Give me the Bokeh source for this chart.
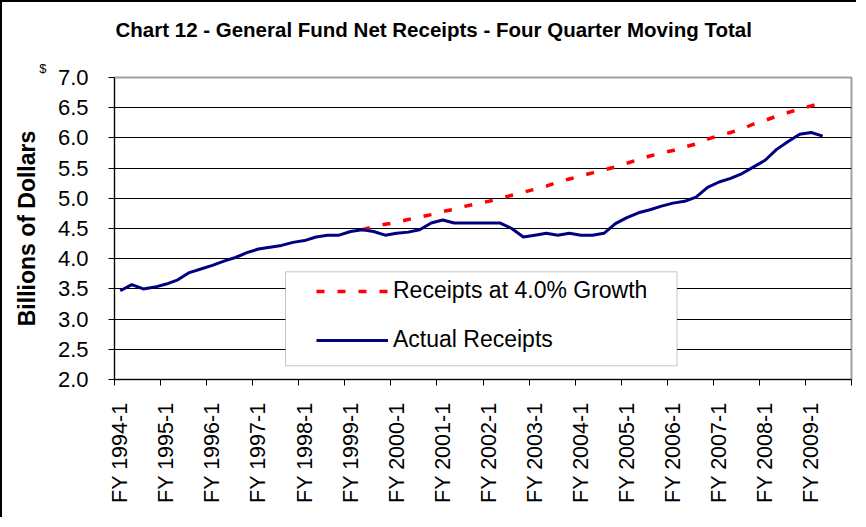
import math
from bokeh.plotting import figure
from bokeh.models import (Range1d, FixedTicker, CustomJSTickFormatter, NumeralTickFormatter,
                          Legend, LegendItem, BoxAnnotation, LinearAxis, Title)
from bokeh.embed import file_html
from bokeh.resources import INLINE

# ---------------- data ----------------
years = list(range(1994, 2010))
quarters = [f"FY {y}-{q}" for y in years for q in range(1, 5)]  # 64 categories

tick_labels = ["FY 1994-1", "FY 1995-1", "FY 1996-1", "FY 1997-1", "FY 1998-1",
               "FY 1999-1", "FY 2000-1", "FY 2001-1", "FY 2002-1", "FY 2003-1",
               "FY 2004-1", "FY 2005-1", "FY 2006-1", "FY 2007-1", "FY 2008-1",
               "FY 2009-1"]

y_ticks = [2.0, 2.5, 3.0, 3.5, 4.0, 4.5, 5.0, 5.5, 6.0, 6.5, 7.0]

actual_receipts = [3.47, 3.57, 3.50, 3.53, 3.58, 3.65, 3.77, 3.83, 3.89, 3.96,
                   4.02, 4.10, 4.16, 4.19, 4.22, 4.27, 4.30, 4.36, 4.39, 4.39,
                   4.45, 4.48, 4.45, 4.39, 4.42, 4.44, 4.48, 4.59, 4.64, 4.59,
                   4.59, 4.59, 4.59, 4.59, 4.50, 4.36, 4.39, 4.42, 4.39, 4.42,
                   4.39, 4.39, 4.42, 4.58, 4.68, 4.76, 4.81, 4.87, 4.92, 4.95,
                   5.02, 5.18, 5.27, 5.33, 5.41, 5.52, 5.63, 5.81, 5.94, 6.06,
                   6.09, 6.03]
actual_quarters = quarters[:len(actual_receipts)]

growth_receipts = [4.48, 4.53, 4.57, 4.60, 4.65, 4.69, 4.73, 4.78, 4.82, 4.87,
                   4.91, 4.95, 5.00, 5.05, 5.10, 5.15, 5.20, 5.27, 5.32, 5.37,
                   5.42, 5.47, 5.52, 5.58, 5.64, 5.70, 5.75, 5.79, 5.85, 5.90,
                   5.98, 6.04, 6.09, 6.15, 6.23, 6.29, 6.36, 6.42, 6.48, 6.53,
                   6.59]
growth_quarters = quarters[21:21 + len(growth_receipts)]

# ---------------- figure ----------------
FONT = "Liberation Sans"
idx = {q: i for i, q in enumerate(quarters)}
actual_x = [idx[q] for q in actual_quarters]
growth_x = [idx[q] for q in growth_quarters]
label_pos = [idx[t] for t in tick_labels]
boundary_pos = [i - 0.5 for i in label_pos] + [len(quarters) - 0.5]

p = figure(width=856, height=517, output_backend="svg", toolbar_location=None,
           x_range=Range1d(-0.5, len(quarters) - 0.5), y_range=Range1d(2.0, 7.0),
           min_border_left=112, min_border_right=7, min_border_top=75,
           min_border_bottom=140, title=None)
p.styles = {"border-left": "2px solid black", "border-top": "2px solid black"}
p.background_fill_color = "white"
p.border_fill_color = "white"
p.outline_line_color = "#A0A0A0"
p.outline_line_width = 2

# title (a thin spacer title keeps the real title up near the chart top)
p.add_layout(Title(text=" ", text_font_size="1px", standoff=34), "above")
p.add_layout(Title(text="Chart 12 - General Fund Net Receipts - Four Quarter Moving Total",
                   align="left", offset=1, standoff=0, vertical_align="bottom",
                   text_font=FONT, text_font_size="20.5px", text_font_style="bold",
                   text_color="black"), "above")

# y axis (numbers)
p.yaxis.ticker = FixedTicker(ticks=y_ticks, minor_ticks=[])
p.yaxis.formatter = NumeralTickFormatter(format="0.0")
p.yaxis.axis_line_color = "black"
p.yaxis.major_tick_line_color = "black"
p.yaxis.major_tick_out = 6
p.yaxis.major_tick_in = 0
p.yaxis.major_label_standoff = 20
p.yaxis.major_label_text_font = FONT
p.yaxis.major_label_text_font_size = "22px"
p.yaxis.major_label_text_color = "black"

# outer y axis: "$" unit marker and the axis title
unit_axis = LinearAxis(ticker=FixedTicker(ticks=[y_ticks[-1]], minor_ticks=[]),
                       formatter=CustomJSTickFormatter(code="return '$\\n';"),
                       axis_line_color=None, major_tick_line_color=None,
                       minor_tick_line_color=None, major_tick_out=0, major_tick_in=0,
                       major_label_standoff=8, major_label_text_font=FONT,
                       major_label_text_font_size="13px", major_label_text_color="black",
                       axis_label="Billions of Dollars", axis_label_text_font=FONT,
                       axis_label_text_font_size="23px", axis_label_text_font_style="bold",
                       axis_label_text_color="black", axis_label_standoff=-4)
p.add_layout(unit_axis, "left")

# x axis
p.xaxis.ticker = FixedTicker(ticks=label_pos, minor_ticks=boundary_pos)
p.xaxis.formatter = CustomJSTickFormatter(args=dict(labels=quarters),
                                          code="return labels[Math.round(tick)] || '';")
p.xaxis.axis_line_color = "black"
p.xaxis.major_tick_out = 0
p.xaxis.major_tick_in = 0
p.xaxis.minor_tick_out = 6
p.xaxis.minor_tick_in = 0
p.xaxis.minor_tick_line_color = "black"
p.xaxis.major_label_orientation = math.pi / 2
p.xaxis.major_label_standoff = 17
p.xaxis.major_label_text_font = FONT
p.xaxis.major_label_text_font_size = "21.5px"
p.xaxis.major_label_text_color = "black"

# grid
p.xgrid.visible = False
p.ygrid.ticker = FixedTicker(ticks=y_ticks[1:-1])
p.ygrid.grid_line_color = "black"
p.ygrid.grid_line_width = 1

# series
r_growth = p.line(growth_x, growth_receipts, line_color="#FF0000", line_width=3.5,
                  line_dash="8 13")
r_actual = p.line(actual_x, actual_receipts, line_color="#000080", line_width=3,
                  line_join="round")

# legend box + legend
p.add_layout(BoxAnnotation(left=171, right=562.5, bottom=13.7, top=107.7,
                           left_units="screen", right_units="screen",
                           bottom_units="screen", top_units="screen",
                           fill_color="white", fill_alpha=1.0,
                           line_color="#404040", line_width=1))
legend = Legend(items=[LegendItem(label="Receipts at 4.0% Growth", renderers=[r_growth]),
                       LegendItem(label="Actual Receipts", renderers=[r_actual])],
                location=(202, 26), border_line_color=None, background_fill_alpha=0,
                padding=0, margin=0, spacing=22, glyph_width=72, glyph_height=24,
                label_height=24, label_standoff=5, label_text_font=FONT,
                label_text_font_size="23px", label_text_color="black",
                label_text_baseline="middle")
p.add_layout(legend)

open("out.html", "w").write(file_html(p, INLINE))
